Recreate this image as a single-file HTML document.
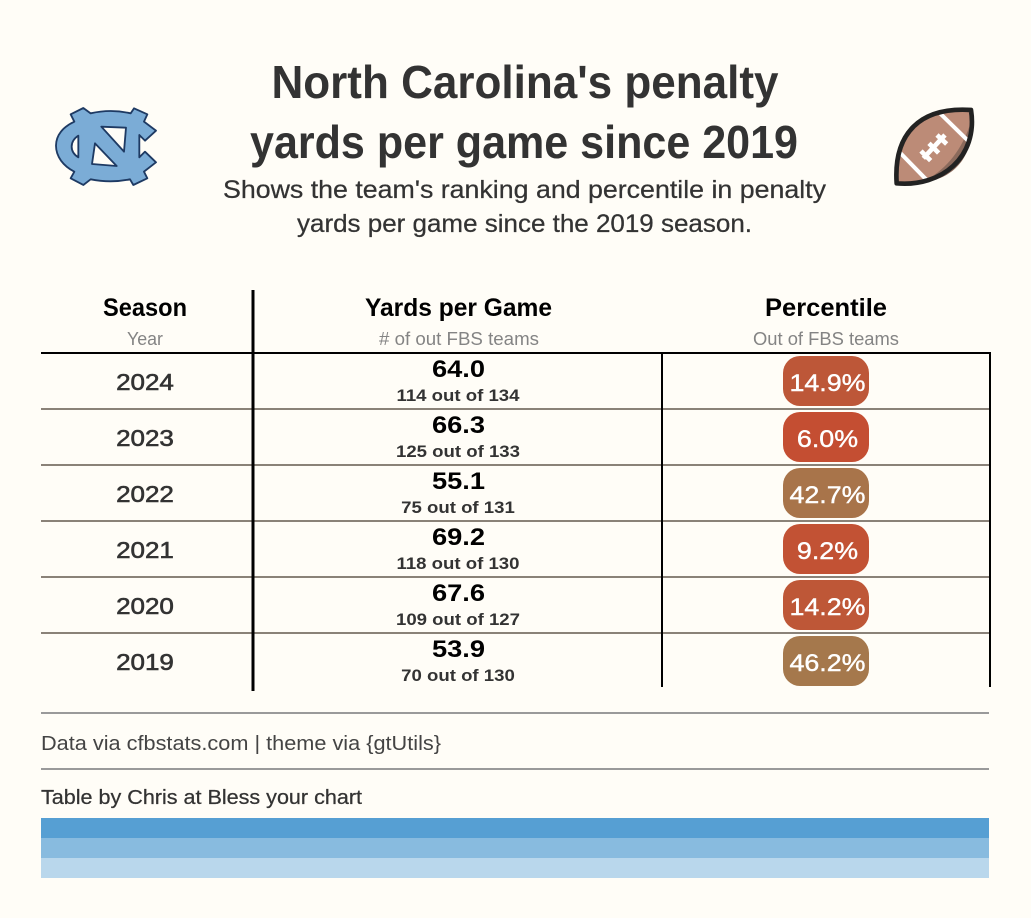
<!DOCTYPE html>
<html lang="en">
<head>
<meta charset="utf-8">
<title>North Carolina's penalty yards per game since 2019</title>
<style>
  html, body { margin: 0; padding: 0; background: #fffdf7; }
  svg { display: block; }
  text { font-family: "Liberation Sans", sans-serif; }
</style>
</head>
<body>
<svg id="chart" xmlns="http://www.w3.org/2000/svg" width="1031" height="918" viewBox="0 0 1031 918">
  <rect width="1031" height="918" fill="#fffdf7"/>

  <g transform="translate(30,80) scale(0.3333)">
    <path fill="#7bacd6" stroke="#1e3a63" stroke-width="5.5" stroke-linejoin="round" fill-rule="evenodd"
      d="M122,103 L160,84 L182,100 Q242,86 302,100 L312,85 L352,103 L342,125 L378,152 L345,182 L328,165 L328,232 L345,215 L378,247 L342,275 L352,295 L310,315 L300,298 Q242,310 182,298 L160,315 L122,295 L133,275 C100,258 78,230 78,197 C78,165 100,140 133,125 Z
         M145,167 Q125,180 125,200 Q125,220 145,232 Z
         M214,140 L288,143 L282,215 Z
         M195,190 L260,258 L186,252 Z"/>
  </g>

  <g transform="translate(870,90) scale(0.3333)">
    <path d="M303,60 C150,50 70,130 80,280 C215,292 325,200 303,60 Z" fill="#bc8b77"/>
    <path d="M298,110 C270,190 220,245 160,274 C235,275 315,205 298,110 Z" fill="#8b6a5c"/>
    <g stroke="#ffffff" stroke-width="12" fill="none">
      <path d="M210,70 L294,152"/>
      <path d="M90,188 L174,274"/>
    </g>
    <g stroke="#ffffff" stroke-width="14" fill="none">
      <path d="M160,205 L225,135"/>
      <path d="M153,183 L182,212"/>
      <path d="M177,160 L206,189"/>
      <path d="M201,135 L230,162"/>
    </g>
    <path d="M303,60 C150,50 70,130 80,280 C215,292 325,200 303,60 Z" fill="none" stroke="#222222" stroke-width="14" stroke-linejoin="round"/>
  </g>

  <text x="525" y="98" text-anchor="middle" font-size="46" font-weight="700" fill="#333333" textLength="507" lengthAdjust="spacingAndGlyphs">North Carolina's penalty</text>
  <text x="524" y="158" text-anchor="middle" font-size="46" font-weight="700" fill="#333333" textLength="548" lengthAdjust="spacingAndGlyphs">yards per game since 2019</text>
  <text x="524.5" y="198" text-anchor="middle" font-size="25" fill="#333333" stroke="#333333" stroke-width="0.25" textLength="603" lengthAdjust="spacingAndGlyphs">Shows the team's ranking and percentile in penalty</text>
  <text x="524.5" y="232" text-anchor="middle" font-size="25" fill="#333333" stroke="#333333" stroke-width="0.25" textLength="455" lengthAdjust="spacingAndGlyphs">yards per game since the 2019 season.</text>

  <text x="145" y="316" text-anchor="middle" font-size="25" font-weight="700" fill="#000000" textLength="84" lengthAdjust="spacingAndGlyphs">Season</text>
  <text x="458.5" y="316" text-anchor="middle" font-size="25" font-weight="700" fill="#000000" textLength="187" lengthAdjust="spacingAndGlyphs">Yards per Game</text>
  <text x="826" y="316" text-anchor="middle" font-size="25" font-weight="700" fill="#000000" textLength="122" lengthAdjust="spacingAndGlyphs">Percentile</text>
  <text x="145" y="345" text-anchor="middle" font-size="18" fill="#848484" textLength="36" lengthAdjust="spacingAndGlyphs">Year</text>
  <text x="459" y="345" text-anchor="middle" font-size="18" fill="#848484" textLength="160" lengthAdjust="spacingAndGlyphs"># of out FBS teams</text>
  <text x="826" y="345" text-anchor="middle" font-size="18" fill="#848484" textLength="146" lengthAdjust="spacingAndGlyphs">Out of FBS teams</text>

  <g id="rows"></g>

  <rect x="41" y="352" width="950" height="2" fill="#000000"/>
  <rect x="251.5" y="290" width="3" height="401" fill="#000000"/>
  <rect x="661" y="353" width="2" height="334" fill="#000000"/>
  <rect x="989" y="353" width="2" height="334" fill="#000000"/>

  <rect x="41" y="712" width="948" height="2" fill="#9a9a9a"/>
  <text x="41" y="750" font-size="20" fill="#444444" textLength="400" lengthAdjust="spacingAndGlyphs">Data via cfbstats.com | theme via {gtUtils}</text>
  <rect x="41" y="768" width="948" height="2" fill="#9a9a9a"/>
  <text x="41" y="804" font-size="20" fill="#333333" stroke="#333333" stroke-width="0.25" textLength="321" lengthAdjust="spacingAndGlyphs">Table by Chris at Bless your chart</text>

  <rect x="41" y="818" width="948" height="20" fill="#569fd3"/>
  <rect x="41" y="838" width="948" height="20" fill="#88bbdf"/>
  <rect x="41" y="858" width="948" height="20" fill="#b9d7ec"/>
</svg>

<script>
const seasons = [2024, 2023, 2022, 2021, 2020, 2019];
const yardsPerGame = [64.0, 66.3, 55.1, 69.2, 67.6, 53.9];
const ranks = [114, 125, 75, 118, 109, 70];
const teamCounts = [134, 133, 131, 130, 127, 130];
const percentiles = [14.9, 6.0, 42.7, 9.2, 14.2, 46.2];

const NS = 'http://www.w3.org/2000/svg';
const rowsGroup = document.getElementById('rows');
const firstRowTop = 353;
const rowHeight = 56;

function rowY(index) {
  return firstRowTop + index * rowHeight;
}

function percentileColor(value) {
  const t = Math.max(0, Math.min(1, value / 100));
  const r = Math.round(201 + (123 - 201) * t);
  const g = Math.round(72 + (176 - 72) * t);
  const b = Math.round(46 + (111 - 46) * t);
  return 'rgb(' + r + ',' + g + ',' + b + ')';
}

function makeText(x, y, content, size, weight, fill) {
  const t = document.createElementNS(NS, 'text');
  t.setAttribute('x', x);
  t.setAttribute('y', y);
  t.setAttribute('text-anchor', 'middle');
  t.setAttribute('font-size', size);
  t.setAttribute('font-weight', weight);
  t.setAttribute('fill', fill);
  t.textContent = content;
  return t;
}

function widen(t, factor) {
  const natural = t.getComputedTextLength();
  t.setAttribute('textLength', (natural * factor).toFixed(2));
  t.setAttribute('lengthAdjust', 'spacingAndGlyphs');
}

seasons.forEach(function (season, i) {
  const top = rowY(i);

  const seasonLabel = makeText(145, top + 37, String(season), 23, 400, '#333333');
  seasonLabel.setAttribute('stroke', '#333333');
  seasonLabel.setAttribute('stroke-width', '0.6');
  
  
  rowsGroup.appendChild(seasonLabel);
  widen(seasonLabel, 1.13);

  const yardsLabel = makeText(458.5, top + 24, yardsPerGame[i].toFixed(1), 24, 700, '#000000');
  
  
  rowsGroup.appendChild(yardsLabel);
  widen(yardsLabel, 1.135);

  const rankText = ranks[i] + ' out of ' + teamCounts[i];
  const rankLabel = makeText(458, top + 48, rankText, 16.5, 700, '#333333');
  
  
  rowsGroup.appendChild(rankLabel);
  widen(rankLabel, 1.127);

  const pill = document.createElementNS(NS, 'rect');
  pill.setAttribute('x', 783);
  pill.setAttribute('y', top + 3);
  pill.setAttribute('width', 86);
  pill.setAttribute('height', 50);
  pill.setAttribute('rx', 17);
  pill.setAttribute('fill', percentileColor(percentiles[i]));
  
  
  rowsGroup.appendChild(pill);

  const pillLabel = makeText(827.5, top + 38, percentiles[i].toFixed(1) + '%', 24, 400, '#ffffff');
  pillLabel.setAttribute('stroke', '#ffffff');
  pillLabel.setAttribute('stroke-width', '0.4');
  
  
  rowsGroup.appendChild(pillLabel);
  widen(pillLabel, 1.118);

  if (i < seasons.length - 1) {
    const rule = document.createElementNS(NS, 'rect');
    rule.setAttribute('x', 41);
    rule.setAttribute('y', rowY(i + 1) - 1);
    rule.setAttribute('width', 950);
    rule.setAttribute('height', 2);
    rule.setAttribute('fill', '#8a8278');
    
    
    rowsGroup.appendChild(rule);
  }
});
</script>
</body>
</html>
